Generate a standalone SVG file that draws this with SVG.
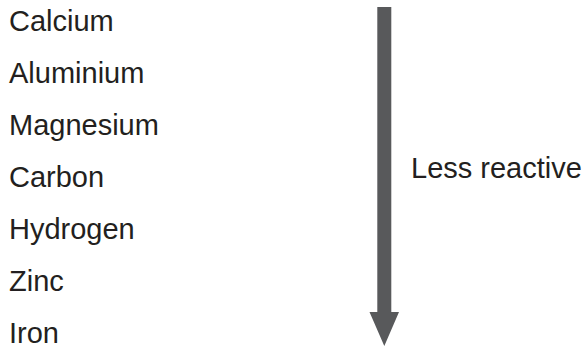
<svg xmlns="http://www.w3.org/2000/svg" width="587" height="349" viewBox="0 0 587 349">
<style>
.t{font-family:"Liberation Sans",Arial,sans-serif;font-size:29px;fill:#231f20}
.a{fill:#58595b}
</style>
<rect width="587" height="349" fill="#ffffff"/>
<g id="calcium"><text class="t" x="9" y="31">Calcium</text></g>
<g id="aluminium"><text class="t" x="9" y="83">Aluminium</text></g>
<g id="magnesium"><text class="t" x="9" y="135">Magnesium</text></g>
<g id="carbon"><text class="t" x="9" y="187">Carbon</text></g>
<g id="hydrogen"><text class="t" x="9" y="239">Hydrogen</text></g>
<g id="zinc"><text class="t" x="9" y="291">Zinc</text></g>
<g id="iron"><text class="t" x="9" y="343">Iron</text></g>
<g id="label"><text class="t" x="411" y="178">Less reactive</text></g>
<g id="connectors">
<polygon class="a" points="377.3,7 391.3,7 391.3,312 399,312 384.3,346 369.5,312 377.3,312"/>
</g>
</svg>
